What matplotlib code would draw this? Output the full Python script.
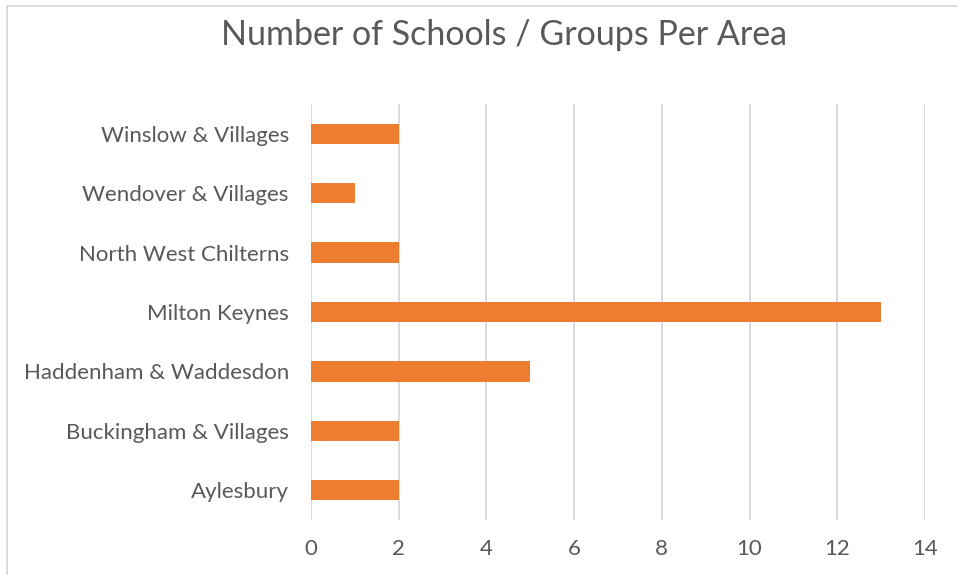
import matplotlib.pyplot as plt
from matplotlib.patches import Rectangle

# --- Data ---
areas = ["Aylesbury", "Buckingham & Villages", "Haddenham & Waddesdon",
         "Milton Keynes", "North West Chilterns", "Wendover & Villages",
         "Winslow & Villages"]
counts = [2, 2, 5, 13, 2, 1, 2]
x_ticks = [0, 2, 4, 6, 8, 10, 12, 14]

plt.rcParams['font.family'] = ['Lato', 'DejaVu Sans']
text_col = '#595959'
grid_col = '#d9d9d9'

fig = plt.figure(figsize=(9.57, 5.75), dpi=100)
ax = fig.add_axes([311 / 957, 1 - 520 / 575, (925 - 311) / 957, (520 - 104) / 575])

ax.barh(range(len(areas)), counts, height=0.34, color='#ED7D31', zorder=3)
ax.set_ylim(-0.5, len(areas) - 0.5)
ax.set_xlim(0, 14)
ax.set_xticks(x_ticks)
ax.set_yticks(range(len(areas)))
ax.set_yticklabels(areas)

ax.grid(axis='x', color=grid_col, linewidth=1.3, zorder=0)
for s in ax.spines.values():
    s.set_visible(False)
ax.tick_params(length=0, colors=text_col, labelsize=16)
ax.tick_params(axis='y', pad=16)
ax.tick_params(axis='x', pad=14)

fig.text(0.527, 1 - 35 / 575, "Number of Schools / Groups Per Area",
         ha='center', va='center', fontsize=24.5, color=text_col)

# chart border (as in the screenshot crop)
fig.patches.append(Rectangle((7 / 957, -0.1), 1.2, 1 - 6 / 575 + 0.1,
                             transform=fig.transFigure, fill=False,
                             edgecolor=grid_col, linewidth=1.3))

plt.savefig("out.png", dpi=100)
